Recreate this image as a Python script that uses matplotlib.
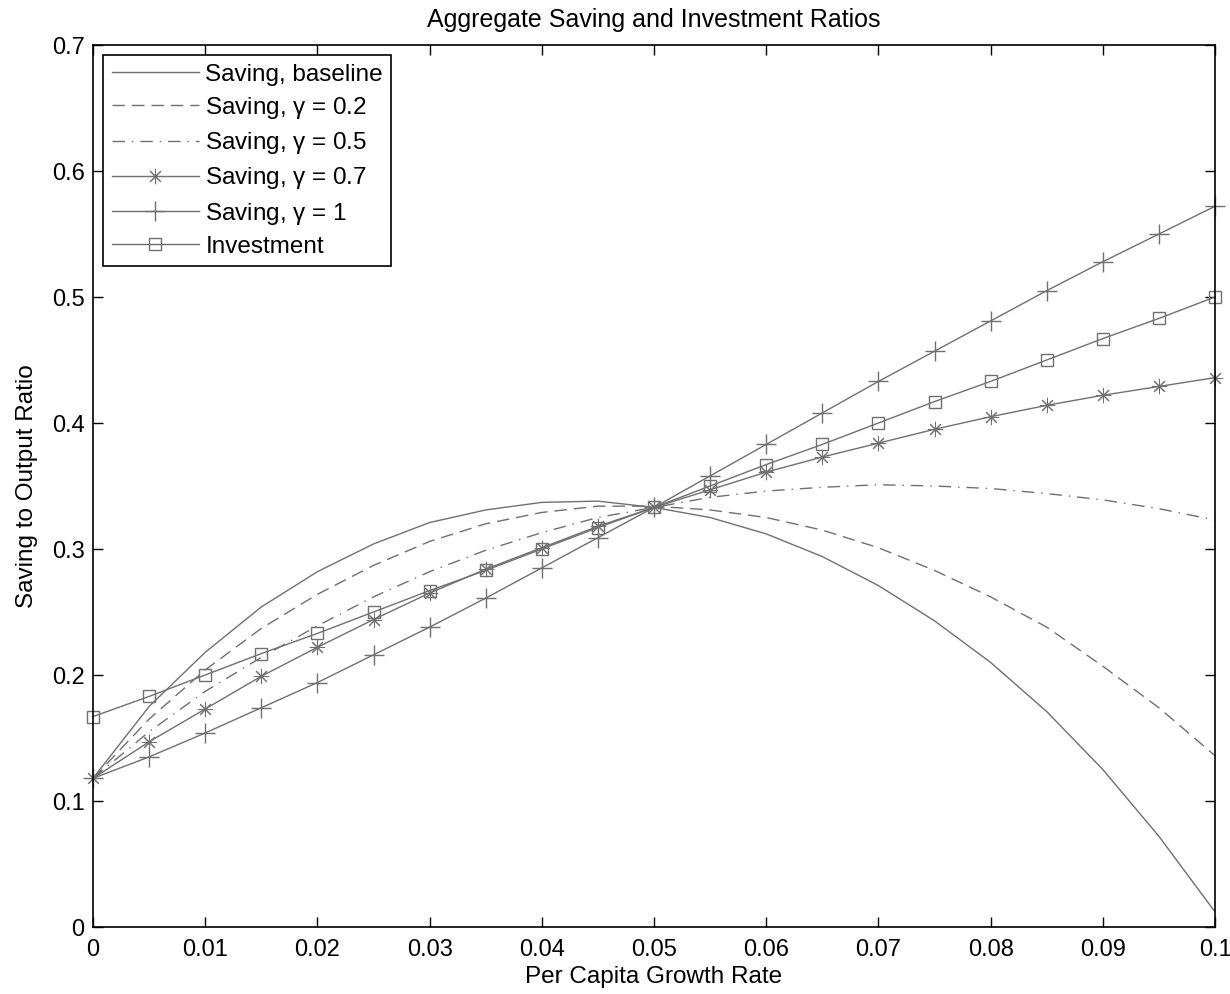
import matplotlib
matplotlib.use("Agg")
from matplotlib import pyplot as plt

plt.rcParams['font.family'] = ['Liberation Sans', 'DejaVu Sans']
plt.rcParams['mathtext.fontset'] = 'custom'
plt.rcParams['mathtext.rm'] = 'Liberation Sans'
plt.rcParams['mathtext.it'] = 'Liberation Sans'

# Data ========================================================================

growth = [0.0, 0.005, 0.01, 0.015, 0.02, 0.025, 0.03, 0.035, 0.04, 0.045, 0.05,
          0.055, 0.06, 0.065, 0.07, 0.075, 0.08, 0.085, 0.09, 0.095, 0.1]

saving_base = [0.118, 0.175, 0.218, 0.254, 0.282, 0.304, 0.321, 0.331, 0.337,
               0.338, 0.333, 0.325, 0.312, 0.294, 0.271, 0.243, 0.210, 0.171,
               0.125, 0.072, 0.012]
saving_g02 = [0.118, 0.165, 0.204, 0.237, 0.264, 0.287, 0.306, 0.320, 0.329,
              0.334, 0.334, 0.331, 0.325, 0.315, 0.301, 0.283, 0.262, 0.238,
              0.207, 0.174, 0.136]
saving_g05 = [0.118, 0.155, 0.187, 0.214, 0.239, 0.262, 0.282, 0.299, 0.313,
              0.325, 0.333, 0.341, 0.346, 0.349, 0.351, 0.350, 0.348, 0.344,
              0.339, 0.332, 0.323]
saving_g07 = [0.118, 0.147, 0.173, 0.199, 0.222, 0.244, 0.265, 0.284, 0.301,
              0.318, 0.333, 0.347, 0.361, 0.373, 0.384, 0.395, 0.405, 0.414,
              0.422, 0.429, 0.436]
saving_g1 = [0.118, 0.135, 0.154, 0.174, 0.194, 0.216, 0.238, 0.261, 0.285,
             0.309, 0.333, 0.358, 0.383, 0.408, 0.433, 0.457, 0.481, 0.505,
             0.528, 0.550, 0.572]
investment = [0.167, 0.183, 0.200, 0.217, 0.233, 0.250, 0.267, 0.283, 0.300,
              0.317, 0.333, 0.350, 0.367, 0.383, 0.400, 0.417, 0.433, 0.450,
              0.467, 0.483, 0.500]

xticks = [0, 0.01, 0.02, 0.03, 0.04, 0.05, 0.06, 0.07, 0.08, 0.09, 0.1]
xticklabels = ["0", "0.01", "0.02", "0.03", "0.04", "0.05", "0.06", "0.07",
               "0.08", "0.09", "0.1"]
yticks = [0, 0.1, 0.2, 0.3, 0.4, 0.5, 0.6, 0.7]
yticklabels = ["0", "0.1", "0.2", "0.3", "0.4", "0.5", "0.6", "0.7"]

# Plot ========================================================================

fig = plt.figure(figsize=(12.3, 9.94), dpi=100)
ax = fig.add_axes([93/1230, 1 - 927/994, (1215 - 93)/1230, (927 - 45)/994])

gray = '#707070'
kw = dict(color=gray, linewidth=1.0)
ax.plot(growth, saving_base, '-', label='Saving, baseline', **kw)
ax.plot(growth, saving_g02, '--', dashes=(9, 5), label=r'Saving, $\gamma$ = 0.2', **kw)
ax.plot(growth, saving_g05, '-.', dashes=(9, 5, 1, 5), label=r'Saving, $\gamma$ = 0.5', **kw)
ax.plot(growth, saving_g07, '-', marker=(8, 2, 0), markersize=11,
        markeredgewidth=0.75, clip_on=False, label=r'Saving, $\gamma$ = 0.7', **kw)
ax.plot(growth, saving_g1, '-', marker='+', markersize=14,
        markeredgewidth=1.0, clip_on=False, label=r'Saving, $\gamma$ = 1', **kw)
ax.plot(growth, investment, '-', marker='s', markersize=9, markerfacecolor='none',
        markeredgewidth=1.0, clip_on=False, label='Investment', **kw)

ax.set_xlim(0, 0.1)
ax.set_ylim(0, 0.7)
ax.set_xticks(xticks)
ax.set_xticklabels(xticklabels)
ax.set_yticks(yticks)
ax.set_yticklabels(yticklabels)
ax.tick_params(direction='in', length=7, width=1, labelsize=17,
               top=True, right=True)
ax.tick_params(axis='x', pad=9)
ax.tick_params(axis='y', pad=6)
for s in ax.spines.values():
    s.set_linewidth(1.2)
    s.set_zorder(5)

ax.set_xlabel("Per Capita Growth Rate", fontsize=17.5, labelpad=3)
ax.set_ylabel("Saving to Output Ratio", fontsize=17.5, labelpad=10)
ax.set_title("Aggregate Saving and Investment Ratios", fontsize=18, pad=13)

leg = ax.legend(loc='upper left', fontsize=17.5, fancybox=False,
                edgecolor='black', framealpha=1, handlelength=3.6,
                borderaxespad=0.42, labelspacing=0.38, handletextpad=0.25,
                borderpad=0.35)
leg.get_frame().set_linewidth(1.2)

fig.savefig("out.png", dpi=100)
